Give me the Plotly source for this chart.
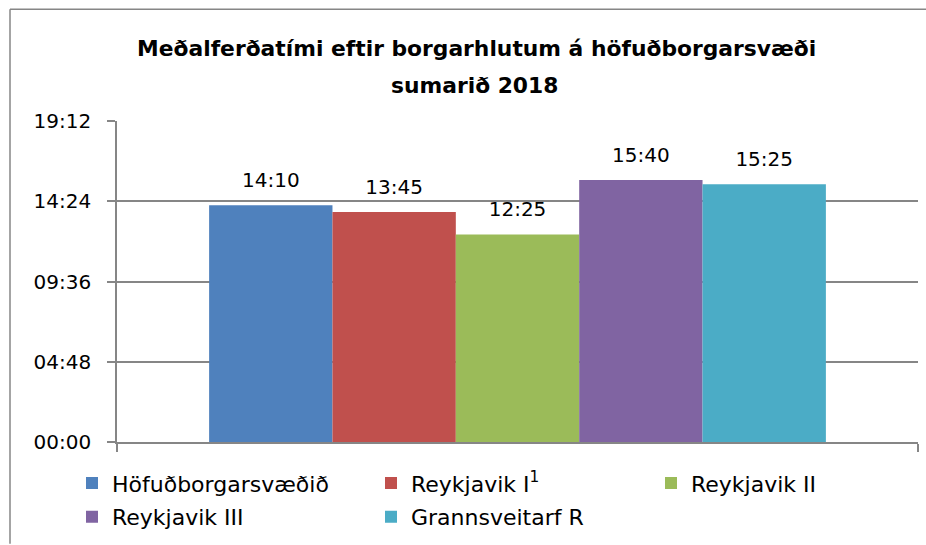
import plotly.graph_objects as go

# Data (travel time in seconds, labels as mm:ss)
series_names = ["Höfuðborgarsvæðið", "Reykjavik I<sup>1</sup>", "Reykjavik II", "Reykjavik III", "Grannsveitarf R"]
series_values = [850, 825, 745, 940, 925]          # 14:10, 13:45, 12:25, 15:40, 15:25
value_labels = ["14:10", "13:45", "12:25", "15:40", "15:25"]
colors = ["#4F81BD", "#C0504D", "#9BBB59", "#8064A2", "#4BACC6"]
legend_ids = ["legend", "legend2", "legend3", "legend", "legend2"]
tick_vals = [0, 288, 576, 864, 1152]
tick_text = ["00:00", "04:48", "09:36", "14:24", "19:12"]
category = [""]

FONT = "'DejaVu Sans', 'Liberation Sans', sans-serif"

fig = go.Figure()
for i, (name, val, lab, col, lg) in enumerate(zip(series_names, series_values, value_labels, colors, legend_ids)):
    fig.add_trace(go.Bar(
        x=category, y=[val], name=name, legend=lg, legendgroup=f"g{i}",
        marker=dict(color=col, line=dict(width=0)),
        text=[lab],
        texttemplate="<span style='font-size:20px'>%{text}</span><br> ",
        textposition="outside",
        textfont=dict(size=10, color="#000000", family=FONT),
        cliponaxis=False,
    ))

W, H = 926, 545
L, R, T, B = 117, 8, 121, 102
pw, ph = W - L - R, H - T - B

def px_x(x):
    return (x - L) / pw

def px_y(y):
    return (H - B - y) / ph

legend_common = dict(
    orientation="v", xanchor="left", y=-0.06, yanchor="top",
    font=dict(size=22, family=FONT, color="#000000"),
    traceorder="grouped", tracegroupgap=2, bgcolor="rgba(0,0,0,0)",
)

fig.update_layout(
    width=W, height=H,
    margin=dict(l=L, r=R, t=T, b=B),
    paper_bgcolor="white", plot_bgcolor="white",
    barmode="group", bargap=0.23, bargroupgap=0,
    font=dict(family=FONT, size=20, color="#000000"),
    showlegend=True,
    legend=dict(x=px_x(72), **legend_common),
    legend2=dict(x=px_x(371), **legend_common),
    legend3=dict(x=px_x(651), **legend_common),
    xaxis=dict(
        range=[-0.5, 0.5], showgrid=False, showticklabels=False,
        showline=True, linecolor="#868686", linewidth=1.5,
        ticks="outside", tickson="boundaries", ticklen=8, tickcolor="#868686", tickwidth=1.5,
        zeroline=False,
    ),
    yaxis=dict(
        range=[0, 1152], tickmode="array", tickvals=tick_vals, ticktext=tick_text,
        showgrid=True, gridcolor="#868686", gridwidth=1.5,
        showline=True, linecolor="#868686", linewidth=1.5,
        ticks="outside", ticklen=8, tickcolor="#868686", tickwidth=1.5,
        tickfont=dict(size=20, family=FONT, color="#000000"),
        zeroline=False, ticklabelstandoff=12,
    ),
    annotations=[
        dict(text="<b>Meðalferðatími eftir borgarhlutum á höfuðborgarsvæði</b>",
             x=px_x(476), y=px_y(48), xref="paper", yref="paper", showarrow=False,
             font=dict(size=21.8, family=FONT, color="#000000"), xanchor="center", yanchor="middle"),
        dict(text="<b>sumarið 2018</b>",
             x=px_x(474), y=px_y(85), xref="paper", yref="paper", showarrow=False,
             font=dict(size=21.8, family=FONT, color="#000000"), xanchor="center", yanchor="middle"),
    ],
    shapes=[
        dict(type="line", xref="paper", yref="paper", x0=px_x(10), x1=px_x(926), y0=px_y(9), y1=px_y(9),
             line=dict(color="#868686", width=1.5)),
        dict(type="line", xref="paper", yref="paper", x0=px_x(10), x1=px_x(10), y0=px_y(9), y1=px_y(545),
             line=dict(color="#868686", width=1.5)),
    ],
)

fig.write_html("out.html", config={"displayModeBar": False},
               post_script="document.body.style.margin='0';")
